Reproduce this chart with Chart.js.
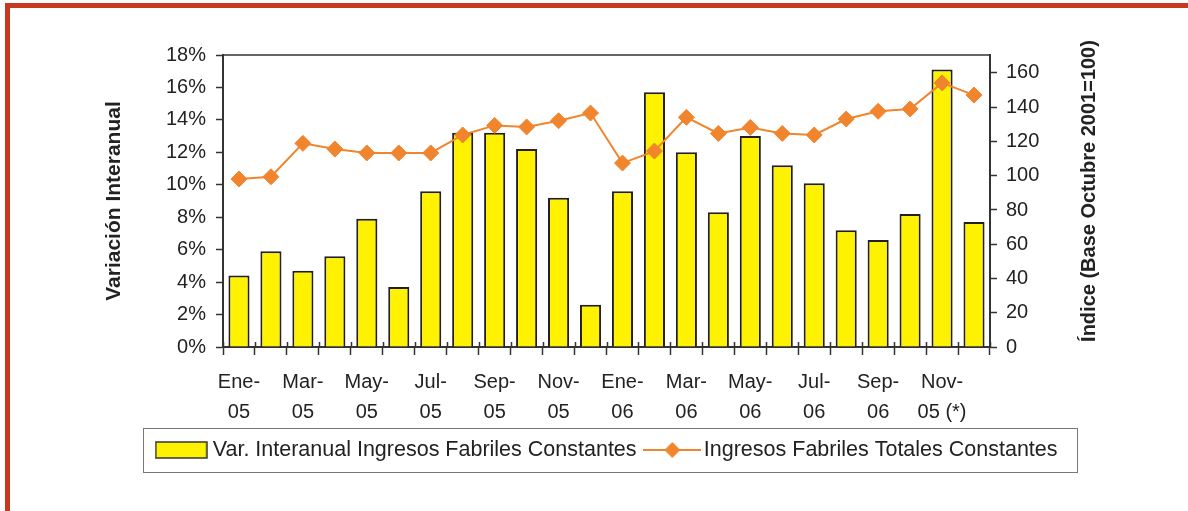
<!DOCTYPE html>
<html><head><meta charset="utf-8">
<script src="https://cdn.jsdelivr.net/npm/chart.js@4"></script>
<style>
html,body{margin:0;padding:0;background:#fff;}
#wrap{position:relative;width:1188px;height:511px;overflow:hidden;background:#fff;}
#c{position:absolute;left:0;top:0;}
.bt{position:absolute;left:5px;top:3px;width:1183px;height:5px;background:#C8381E;}
.bl{position:absolute;left:5px;top:3px;width:5px;height:508px;background:#C8381E;}
</style></head><body>
<div id="wrap"><canvas id="c" width="1188" height="511"></canvas><div class="bt"></div><div class="bl"></div></div>
<script>
const categories = ['Ene-05','Feb-05','Mar-05','Abr-05','May-05','Jun-05','Jul-05','Ago-05','Sep-05','Oct-05','Nov-05','Dic-05',
                    'Ene-06','Feb-06','Mar-06','Abr-06','May-06','Jun-06','Jul-06','Ago-06','Sep-06','Oct-06','Nov-06','Dic-06'];
const tickLabels = ['Ene-05','','Mar-05','','May-05','','Jul-05','','Sep-05','','Nov-05','',
                    'Ene-06','','Mar-06','','May-06','','Jul-06','','Sep-06','','Nov-05 (*)',''];
const varInteranual = [4.4, 5.9, 4.7, 5.6, 7.9, 3.7, 9.6, 13.2, 13.2, 12.2, 9.2, 2.6,
                       9.6, 15.7, 12.0, 8.3, 13.0, 11.2, 10.1, 7.2, 6.6, 8.2, 17.1, 7.7];
const ingresosTotales = [98.1, 99.4, 118.9, 115.6, 113.3, 113.3, 113.3, 123.8, 129.4, 128.5, 132.1, 136.6,
                         107.4, 114.4, 134.1, 124.7, 128.2, 124.7, 123.8, 133.1, 137.6, 139.0, 154.2, 147.1];
const rightTickValues = [0, 20, 40, 60, 80, 100, 120, 140, 160];
const seriesNames = ['Var. Interanual Ingresos Fabriles Constantes', 'Ingresos Fabriles Totales Constantes'];
const leftAxisTitle = 'Variación Interanual';
const rightAxisTitle = 'Índice (Base Octubre 2001=100)';
const leftMax = 18, leftStep = 2;
const rightMax = 170.5;

const FONT = "'Liberation Sans', Arial, sans-serif";
const TXT = '#222';
const AX = '#333';
const YELLOW = '#FFF200';
const ORANGE = '#F0852D';
Chart.defaults.font.family = FONT;
Chart.defaults.color = TXT;

const xLabels = tickLabels.map(t => {
  if (!t) return '';
  const k = t.indexOf('-') + 1;
  return [t.slice(0, k), t.slice(k)];
});

function barSymbol() {
  const c = document.createElement('canvas'); c.width = 53; c.height = 18;
  const g = c.getContext('2d');
  g.fillStyle = YELLOW; g.fillRect(1, 1, 51, 16);
  g.strokeStyle = AX; g.lineWidth = 1.5; g.strokeRect(1, 1, 51, 16);
  return c;
}
function lineSymbol() {
  const c = document.createElement('canvas'); c.width = 58; c.height = 18;
  const g = c.getContext('2d');
  g.strokeStyle = ORANGE; g.lineWidth = 2;
  g.beginPath(); g.moveTo(0, 9); g.lineTo(58, 9); g.stroke();
  g.fillStyle = ORANGE; g.beginPath();
  g.moveTo(29, 1); g.lineTo(37, 9); g.lineTo(29, 17); g.lineTo(21, 9); g.closePath(); g.fill();
  return c;
}
const symbols = [barSymbol(), lineSymbol()];

const framePlugin = {
  id: 'frame',
  afterDatasetsDraw(chart) {
    const {ctx, chartArea: a, scales: {x}} = chart;
    ctx.save();
    ctx.strokeStyle = AX; ctx.lineWidth = 1.5;
    ctx.beginPath(); ctx.moveTo(a.left, a.top); ctx.lineTo(a.right, a.top); ctx.stroke();
    const n = categories.length; const w = (x.right - x.left) / n;
    ctx.beginPath();
    for (let i = 0; i <= n; i++) {
      const px = Math.round(x.left + i * w) + 0.5;
      ctx.moveTo(px, a.bottom - 5); ctx.lineTo(px, a.bottom);
    }
    ctx.stroke();
    ctx.restore();
  },
  afterDraw(chart) {
    const {ctx, chartArea: a} = chart;
    ctx.save();
    ctx.translate(a.right + 99, (a.top + a.bottom) / 2 - 10);
    ctx.rotate(-Math.PI / 2);
    ctx.font = "bold 20px " + FONT;
    ctx.fillStyle = TXT; ctx.textAlign = 'center'; ctx.textBaseline = 'middle';
    ctx.fillText(rightAxisTitle, 0, 0);
    ctx.restore();
    const lg = chart.legend; const hb = lg.legendHitBoxes;
    if (hb && hb.length) {
      const l = hb[0].left - 17, r = hb[hb.length - 1].left + hb[hb.length - 1].width + 20;
      const cy = hb[0].top + hb[0].height / 2;
      ctx.save();
      ctx.strokeStyle = '#777'; ctx.lineWidth = 1;
      ctx.strokeRect(Math.round(l) + 0.5, Math.round(cy - 22) + 0.5, Math.round(r - l), 44);
      ctx.restore();
    }
  }
};

new Chart(document.getElementById('c'), {
  data: {
    labels: xLabels,
    datasets: [
      { type: 'bar', label: seriesNames[0], data: varInteranual, yAxisID: 'y', order: 2,
        backgroundColor: YELLOW, borderColor: '#231F20', borderWidth: 2,
        barPercentage: 0.66, categoryPercentage: 1 },
      { type: 'line', label: seriesNames[1], data: ingresosTotales, yAxisID: 'y1', order: 1,
        borderColor: ORANGE, borderWidth: 2, tension: 0, fill: false,
        pointStyle: 'rectRot', pointRadius: 8, pointBackgroundColor: ORANGE, pointBorderColor: ORANGE, pointBorderWidth: 1 }
    ]
  },
  options: {
    responsive: false, animation: false,
    layout: { padding: { left: 30, right: 0, top: 55, bottom: 40.25 } },
    plugins: {
      tooltip: { enabled: false },
      legend: {
        position: 'bottom',
        labels: {
          usePointStyle: true, pointStyleWidth: 41.5, boxHeight: 16, padding: 15,
          font: { size: 21.5 }, color: TXT,
          generateLabels(chart) {
            const items = Chart.defaults.plugins.legend.labels.generateLabels(chart);
            items.sort((p, q) => p.datasetIndex - q.datasetIndex);
            items.forEach(it => { it.pointStyle = symbols[it.datasetIndex]; it.lineWidth = 0; });
            return items;
          }
        }
      }
    },
    scales: {
      x: {
        type: 'category', offset: true,
        grid: { display: true, offset: true, drawOnChartArea: false, drawTicks: true, tickLength: 8, tickColor: AX, tickWidth: 1.5, color: AX },
        border: { display: true, color: AX, width: 2 },
        ticks: { autoSkip: false, maxRotation: 0, minRotation: 0, padding: 12, font: { size: 20, lineHeight: 1.5 }, color: TXT },
        afterFit(s) { s.height = 77.25; }
      },
      y: {
        position: 'left', min: 0, max: leftMax,
        ticks: { stepSize: leftStep, padding: 10, font: { size: 20 }, color: TXT, callback: v => v + '%' },
        grid: { drawOnChartArea: false, drawTicks: true, tickLength: 7, tickColor: AX, tickWidth: 1.5 },
        border: { display: true, color: AX, width: 2 },
        title: { display: true, text: leftAxisTitle, font: { size: 21, weight: 'bold' }, color: TXT, padding: { top: 72, bottom: 0 } },
        afterFit(s) { s.width = 193; }
      },
      y1: {
        position: 'right', min: 0, max: rightMax,
        ticks: { padding: 9, font: { size: 20 }, color: TXT },
        afterBuildTicks(s) { s.ticks = rightTickValues.map(v => ({ value: v })); },
        grid: { drawOnChartArea: false, drawTicks: true, tickLength: 7, tickColor: AX, tickWidth: 1.5 },
        border: { display: true, color: AX, width: 2 },
        afterFit(s) { s.width = 198; }
      }
    }
  },
  plugins: [framePlugin]
});
</script>
</body></html>
